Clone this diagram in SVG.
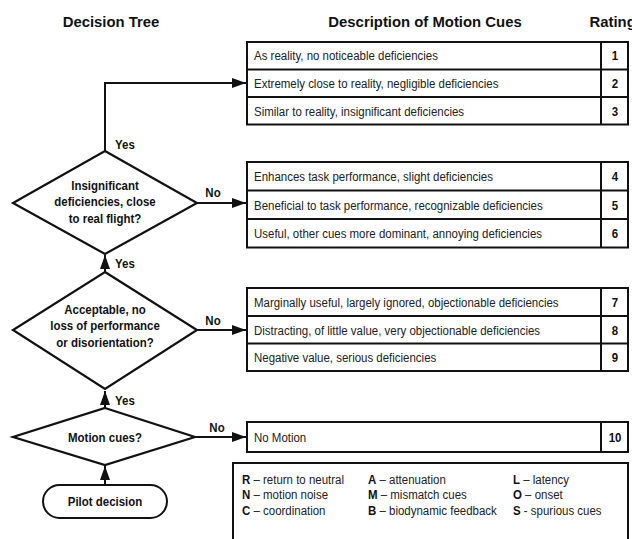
<svg xmlns="http://www.w3.org/2000/svg" width="632" height="539" viewBox="0 0 632 539">
<style>
.t{font-family:"Liberation Sans",Arial,sans-serif;font-size:13.5px;fill:#222}
.b{font-weight:bold;fill:#111}
.h{font-family:"Liberation Sans",Arial,sans-serif;font-size:15.5px;font-weight:bold;fill:#111}
.m{text-anchor:middle}
.box{fill:#fff;stroke:#111;stroke-width:2}
.ln{fill:none;stroke:#111;stroke-width:2}
.sh{fill:#fff;stroke:#111;stroke-width:2.2;stroke-linejoin:miter}
</style>
<defs>
<marker id="ar" markerUnits="userSpaceOnUse" markerWidth="15" markerHeight="10" refX="14" refY="5" orient="auto">
<path d="M0,0 L14,5 L0,10 z" fill="#111"/>
</marker>
</defs>
<rect width="632" height="539" fill="#fff"/>

<g id="headers">
<text class="h m" transform="translate(111,27) scale(0.96,1)">Decision Tree</text>
<text class="h m" transform="translate(425,27) scale(0.96,1)">Description of Motion Cues</text>
<text class="h" transform="translate(589.5,27) scale(0.96,1)">Rating</text>
</g>

<g id="connectors">
<polyline class="ln" points="105,151 105,83 246,83" marker-end="url(#ar)"/>
<line class="ln" x1="197" y1="203" x2="246" y2="203" marker-end="url(#ar)"/>
<line class="ln" x1="105" y1="272" x2="105" y2="255" marker-end="url(#ar)"/>
<line class="ln" x1="197" y1="330" x2="246" y2="330" marker-end="url(#ar)"/>
<line class="ln" x1="105" y1="408" x2="105" y2="391" marker-end="url(#ar)"/>
<line class="ln" x1="195" y1="437" x2="246" y2="437" marker-end="url(#ar)"/>
<line class="ln" x1="105" y1="485" x2="105" y2="466" marker-end="url(#ar)"/>
<text class="t b" transform="translate(115,148.5) scale(0.85,1)">Yes</text>
<text class="t b" transform="translate(115,267.5) scale(0.85,1)">Yes</text>
<text class="t b" transform="translate(115,404.5) scale(0.85,1)">Yes</text>
<text class="t b m" transform="translate(213,196.5) scale(0.85,1)">No</text>
<text class="t b m" transform="translate(213,324.5) scale(0.85,1)">No</text>
<text class="t b m" transform="translate(217,431.5) scale(0.85,1)">No</text>
</g>

<g id="table1">
<rect class="box" x="247" y="42" width="381" height="82.5"/>
<line class="ln" x1="247" y1="69.5" x2="628" y2="69.5"/>
<line class="ln" x1="247" y1="97" x2="628" y2="97"/>
<line class="ln" x1="601" y1="42" x2="601" y2="124.5"/>
<text class="t" transform="translate(254,60) scale(0.85,1)">As reality, no noticeable deficiencies</text>
<text class="t" transform="translate(254,88) scale(0.85,1)">Extremely close to reality, negligible deficiencies</text>
<text class="t" transform="translate(254,115.5) scale(0.85,1)">Similar to reality, insignificant deficiencies</text>
<text class="t b m" transform="translate(615,60) scale(0.85,1)">1</text>
<text class="t b m" transform="translate(615,88) scale(0.85,1)">2</text>
<text class="t b m" transform="translate(615,115.5) scale(0.85,1)">3</text>
</g>

<g id="table2">
<rect class="box" x="247" y="162" width="381" height="85.5"/>
<line class="ln" x1="247" y1="190.5" x2="628" y2="190.5"/>
<line class="ln" x1="247" y1="219" x2="628" y2="219"/>
<line class="ln" x1="601" y1="162" x2="601" y2="247.5"/>
<text class="t" transform="translate(254,181) scale(0.85,1)">Enhances task performance, slight deficiencies</text>
<text class="t" transform="translate(254,209.5) scale(0.85,1)">Beneficial to task performance, recognizable deficiencies</text>
<text class="t" transform="translate(254,238) scale(0.85,1)">Useful, other cues more dominant, annoying deficiencies</text>
<text class="t b m" transform="translate(615,181) scale(0.85,1)">4</text>
<text class="t b m" transform="translate(615,209.5) scale(0.85,1)">5</text>
<text class="t b m" transform="translate(615,238) scale(0.85,1)">6</text>
</g>

<g id="table3">
<rect class="box" x="247" y="288" width="381" height="83"/>
<line class="ln" x1="247" y1="316" x2="628" y2="316"/>
<line class="ln" x1="247" y1="343.5" x2="628" y2="343.5"/>
<line class="ln" x1="601" y1="288" x2="601" y2="371"/>
<text class="t" transform="translate(254,306.5) scale(0.85,1)">Marginally useful, largely ignored, objectionable deficiencies</text>
<text class="t" transform="translate(254,334.5) scale(0.85,1)">Distracting, of little value, very objectionable deficiencies</text>
<text class="t" transform="translate(254,362) scale(0.85,1)">Negative value, serious deficiencies</text>
<text class="t b m" transform="translate(615,306.5) scale(0.85,1)">7</text>
<text class="t b m" transform="translate(615,334.5) scale(0.85,1)">8</text>
<text class="t b m" transform="translate(615,362) scale(0.85,1)">9</text>
</g>

<g id="nomotion">
<rect class="box" x="247" y="422" width="381" height="30"/>
<line class="ln" x1="601" y1="422" x2="601" y2="452"/>
<text class="t" transform="translate(254,441.5) scale(0.85,1)">No Motion</text>
<text class="t b m" transform="translate(615,441.5) scale(0.85,1)">10</text>
</g>

<g id="legend">
<rect class="box" x="233" y="463" width="395" height="95"/>
<text class="t" transform="translate(242,483.5) scale(0.85,1)"><tspan font-weight="bold" fill="#111">R</tspan> – return to neutral</text>
<text class="t" transform="translate(242,499) scale(0.85,1)"><tspan font-weight="bold" fill="#111">N</tspan> – motion noise</text>
<text class="t" transform="translate(242,514.5) scale(0.85,1)"><tspan font-weight="bold" fill="#111">C</tspan> – coordination</text>
<text class="t" transform="translate(368,483.5) scale(0.85,1)"><tspan font-weight="bold" fill="#111">A</tspan> – attenuation</text>
<text class="t" transform="translate(368,499) scale(0.85,1)"><tspan font-weight="bold" fill="#111">M</tspan> – mismatch cues</text>
<text class="t" transform="translate(368,514.5) scale(0.85,1)"><tspan font-weight="bold" fill="#111">B</tspan> – biodynamic feedback</text>
<text class="t" transform="translate(513,483.5) scale(0.85,1)"><tspan font-weight="bold" fill="#111">L</tspan> – latency</text>
<text class="t" transform="translate(513,499) scale(0.85,1)"><tspan font-weight="bold" fill="#111">O</tspan> – onset</text>
<text class="t" transform="translate(513,514.5) scale(0.85,1)"><tspan font-weight="bold" fill="#111">S</tspan> - spurious cues</text>
</g>

<g id="decision1">
<polygon class="sh" points="105,151 197,203 105,254 13,203"/>
<text class="t b m" transform="translate(105,189.5) scale(0.85,1)">Insignificant</text>
<text class="t b m" transform="translate(105,206) scale(0.85,1)">deficiencies, close</text>
<text class="t b m" transform="translate(105,222.5) scale(0.85,1)">to real flight?</text>
</g>

<g id="decision2">
<polygon class="sh" points="105,272 197,330 105,389 13,330"/>
<text class="t b m" transform="translate(105,313.5) scale(0.85,1)">Acceptable, no</text>
<text class="t b m" transform="translate(105,330) scale(0.85,1)">loss of performance</text>
<text class="t b m" transform="translate(105,346.5) scale(0.85,1)">or disorientation?</text>
</g>

<g id="decision3">
<polygon class="sh" points="105,408 195,437 105,465 13,437"/>
<text class="t b m" transform="translate(105,441.5) scale(0.85,1)">Motion cues?</text>
</g>

<g id="pilot">
<rect class="box" x="43" y="485" width="124" height="33" rx="16.5"/>
<text class="t b m" transform="translate(105,506) scale(0.85,1)">Pilot decision</text>
</g>
</svg>
